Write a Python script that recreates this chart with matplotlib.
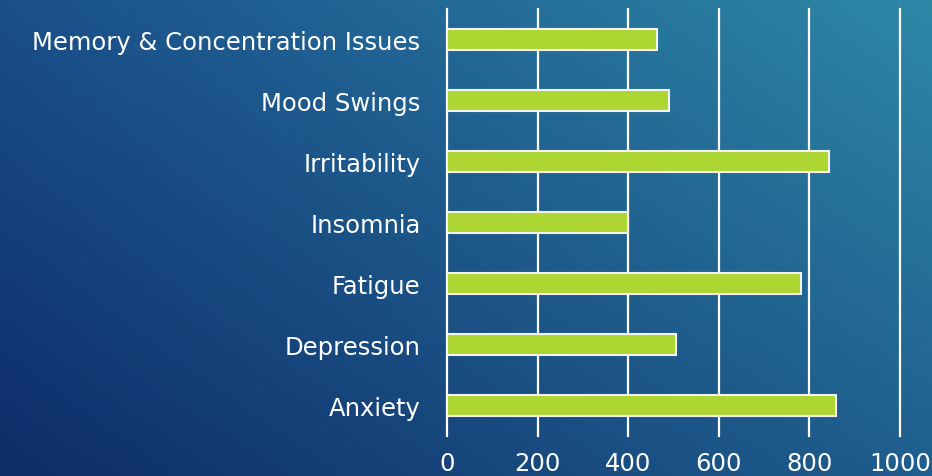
import numpy as np
import matplotlib
matplotlib.use("Agg")
import matplotlib.pyplot as plt

categories = ["Anxiety", "Depression", "Fatigue", "Insomnia", "Irritability",
              "Mood Swings", "Memory & Concentration Issues"]
values = [859, 505, 781, 400, 843, 490, 464]
xticks = [0, 200, 400, 600, 800, 1000]

W, H = 932, 477
fig = plt.figure(figsize=(W / 100, H / 100), dpi=100)

# gradient background
bg = fig.add_axes([0, 0, 1, 1])
bg.set_axis_off()
tl = np.array([0x1a, 0x4f, 0x8a]) / 255
tr = np.array([0x2e, 0x88, 0xa6]) / 255
bl = np.array([0x0e, 0x2c, 0x68]) / 255
br = np.array([0x1f, 0x5e, 0x8e]) / 255
u = np.linspace(0, 1, 200)[None, :, None]
v = np.linspace(0, 1, 100)[:, None, None]
img = (1 - v) * ((1 - u) * tl + u * tr) + v * ((1 - u) * bl + u * br)
bg.imshow(img, aspect="auto", extent=[0, 1, 0, 1], origin="upper")
bg.set_xlim(0, 1); bg.set_ylim(0, 1)

ax = fig.add_axes([447 / W, (H - 437) / H, (900 - 447) / W, (437 - 10) / H])
ax.patch.set_alpha(0)
y = np.arange(len(categories))
ax.barh(y, values, height=0.36, color="#add633", edgecolor="#f2f2f2", linewidth=1.5, zorder=3)
ax.set_xlim(0, 1000)
ax.set_ylim(-0.5, len(categories) - 0.5)
ax.set_xticks(xticks)
ax.set_xticklabels([str(t) for t in xticks])
ax.set_yticks(y)
ax.set_yticklabels(categories)
for s in ax.spines.values():
    s.set_visible(False)
ax.grid(axis="x", color="white", linewidth=1.6, zorder=1)
for gl in ax.get_xgridlines():
    gl.set_clip_on(False)
ax.tick_params(axis="both", length=0, colors="white", labelsize=17.5)
ax.tick_params(axis="x", pad=11)
ax.tick_params(axis="y", pad=19)
for lab in ax.get_xticklabels() + ax.get_yticklabels():
    lab.set_fontfamily("DejaVu Sans")

fig.savefig("out.png", dpi=100)
